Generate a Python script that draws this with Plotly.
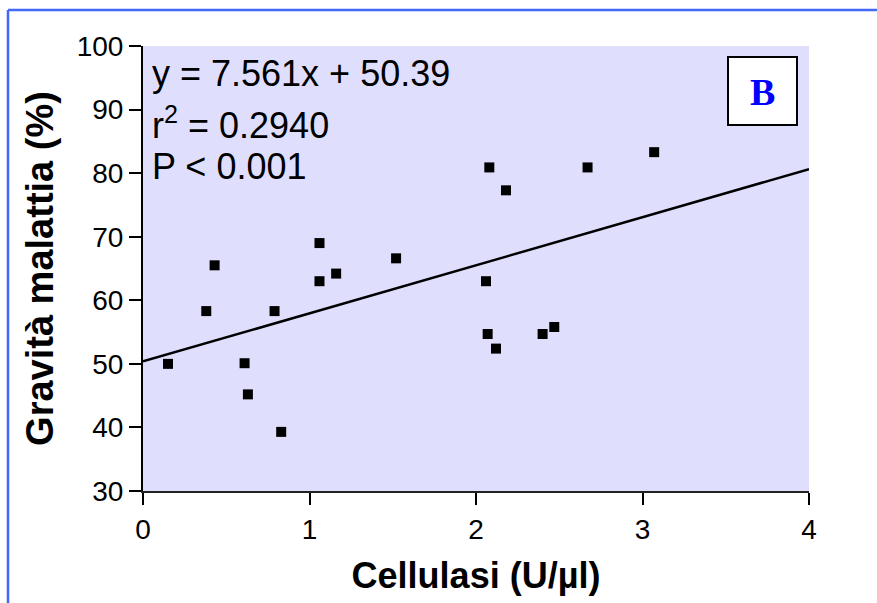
import numpy as np
import plotly.graph_objects as go

# Data
cellulasi = [0.15, 0.38, 0.43, 0.61, 0.63, 0.79, 0.83, 1.06, 1.06, 1.16, 1.52,
             2.06, 2.07, 2.08, 2.12, 2.18, 2.40, 2.47, 2.67, 3.07]
gravita = [50.0, 58.3, 65.5, 50.1, 45.2, 58.3, 39.3, 69.0, 63.0, 64.2, 66.6,
           63.0, 54.7, 80.9, 52.4, 77.3, 54.7, 55.8, 80.9, 83.3]
slope = 7.561
intercept = 50.39
x_range = [0, 4]
y_range = [30, 100]
x_ticks = [0, 1, 2, 3, 4]
y_ticks = [30, 40, 50, 60, 70, 80, 90, 100]

W, H = 877, 603
L, R, T, B = 143, 68, 46, 112
pw, ph = W - L - R, H - T - B

def px(x):
    return (x - L) / pw

def py(y):
    return (H - B - y) / ph

FONT = "Liberation Sans, Arial, sans-serif"

fig = go.Figure()
xl = np.array(x_range, dtype=float)
fig.add_trace(go.Scatter(x=xl, y=slope * xl + intercept, mode="lines",
                         line=dict(color="black", width=2.5), hoverinfo="skip",
                         showlegend=False))
fig.add_trace(go.Scatter(x=cellulasi, y=gravita, mode="markers",
                         marker=dict(symbol="square", size=10, color="black"),
                         showlegend=False))

fig.update_layout(
    width=W, height=H,
    margin=dict(l=L, r=R, t=T, b=B),
    paper_bgcolor="white",
    plot_bgcolor="#dfdffd",
    font=dict(family=FONT, color="black"),
    xaxis=dict(range=x_range, tickvals=x_ticks, showgrid=False, zeroline=False,
               showline=True, linecolor="#222", linewidth=2,
               ticks="outside", ticklen=12, tickwidth=2, tickcolor="black",
               tickfont=dict(size=28, family=FONT),
               title=dict(text="<b>Cellulasi (U/µl)</b>", font=dict(size=36, family=FONT), standoff=19)),
    yaxis=dict(range=y_range, tickvals=y_ticks, showgrid=False, zeroline=False,
               showline=True, linecolor="black", linewidth=2,
               ticks="outside", ticklen=12, tickwidth=2, tickcolor="black",
               tickfont=dict(size=28, family=FONT),
               title=dict(text="<b>Gravità malattia (%)</b>", font=dict(size=38, family=FONT), standoff=11)),
)

ann_texts = ["y = 7.561x + 50.39", "r<sup>2</sup> = 0.2940", "P < 0.001"]
ann_y = [73, 123, 166]
for t, yy in zip(ann_texts, ann_y):
    fig.add_annotation(text=t, xref="paper", yref="paper", x=px(150), y=py(yy),
                       xanchor="left", yanchor="middle", showarrow=False,
                       font=dict(size=36, family=FONT, color="black"))

# "B" label box
fig.add_shape(type="rect", xref="paper", yref="paper",
              x0=px(728), x1=px(797), y0=py(125), y1=py(57),
              fillcolor="white", line=dict(color="black", width=2), layer="above")
fig.add_annotation(text="<b>B</b>", xref="paper", yref="paper",
                   x=px(762.5), y=py(92), xanchor="center", yanchor="middle",
                   showarrow=False,
                   font=dict(size=38, family="Liberation Serif, Times New Roman, serif", color="#0000ff"))

# outer frame (top and left edges)
fig.add_shape(type="line", xref="paper", yref="paper",
              x0=px(8), x1=px(W + 5), y0=py(10), y1=py(10),
              line=dict(color="#4169f5", width=2.5))
fig.add_shape(type="line", xref="paper", yref="paper",
              x0=px(8), x1=px(8), y0=py(10), y1=py(H + 5),
              line=dict(color="#4169f5", width=2.5))

fig.write_html("out.html")
